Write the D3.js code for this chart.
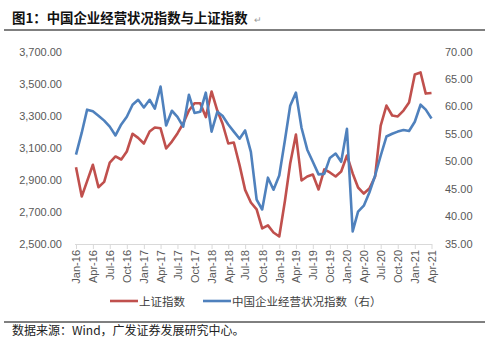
<!DOCTYPE html>
<html>
<head>
<meta charset="utf-8">
<script src="https://cdn.jsdelivr.net/npm/d3@7"></script>
<style>
  body { margin: 0; background: #fff; }
  svg { display: block; }
</style>
</head>
<body>
<div id="chart"></div>
<script>
// monthly, Jan-16 .. Apr-21
var startMonth = new Date(2016, 0, 1);

// 上证指数 (left axis)
var sseValues = [
  2977, 2794, 2890, 2992, 2852, 2885, 3005, 3044, 3025, 3075,
  3186, 3160, 3125, 3200, 3225, 3220, 3094, 3137, 3188, 3250,
  3331, 3377, 3377, 3290, 3450, 3331, 3250, 3125, 3131, 2990,
  2835, 2756, 2713, 2594, 2613, 2569, 2544, 2769, 3000, 3181,
  2894, 2919, 2931, 2838, 2963, 2944, 2919, 2950, 3050, 2938,
  2850, 2812, 2844, 2919, 3237, 3362, 3300, 3294, 3331, 3381,
  3556, 3569, 3437, 3441
];

// 中国企业经营状况指数 (right axis)
var bizValues = [
  51.2, 55.2, 59.4, 59.1, 58.3, 57.4, 56.3, 54.7, 56.7, 58.1,
  60.3, 61.2, 59.8, 61.2, 59.6, 63.6, 56.5, 59.2, 58.1, 56.3,
  62.1, 58.8, 59.0, 62.5, 55.4, 59.0, 58.3, 56.7, 55.4, 54.1,
  55.6, 51.7, 43.0, 41.2, 47.0, 44.8, 47.4, 53.9, 60.1, 62.5,
  56.1, 52.1, 49.9, 47.6, 47.7, 50.6, 51.4, 49.9, 55.9, 37.2,
  40.8, 41.9, 44.3, 47.4, 51.0, 54.5, 55.0, 55.4, 55.7, 55.5,
  57.2, 60.3, 59.4, 57.8
];

var leftTicks = [2500, 2700, 2900, 3100, 3300, 3500, 3700];
var rightTicks = [35, 40, 45, 50, 55, 60, 65, 70];
var seriesNames = ["上证指数", "中国企业经营状况指数（右）"];
var seriesColors = ["#C0504D", "#4F81BD"];

var titleText = "图1：中国企业经营状况指数与上证指数";
var sourceText = "数据来源：Wind，广发证券发展研究中心。";

var width = 485, height = 342;
var font = "'Liberation Sans', Arial, sans-serif";
var cjk = "'Noto Sans CJK SC', sans-serif";

var svg = d3.select("#chart").append("svg")
    .attr("width", width).attr("height", height);

// title + rules
svg.append("text")
    .attr("x", 12).attr("y", 23)
    .attr("font-family", cjk).attr("font-weight", "bold")
    .attr("font-size", 13.4).attr("fill", "#111")
    .text(titleText);
svg.append("text")
    .attr("x", 254).attr("y", 23)
    .attr("font-family", font).attr("font-size", 9).attr("fill", "#999")
    .text("↵");
svg.append("line").attr("x1", 4).attr("x2", 485).attr("y1", 30).attr("y2", 30)
    .attr("stroke", "#000").attr("stroke-width", 1.2);
svg.append("line").attr("x1", 4).attr("x2", 485).attr("y1", 322).attr("y2", 322)
    .attr("stroke", "#000").attr("stroke-width", 1);
svg.append("text")
    .attr("x", 12).attr("y", 335)
    .attr("font-family", cjk).attr("font-size", 12).attr("fill", "#222")
    .text(sourceText);

var dates = sseValues.map(function(d, i) { return d3.timeMonth.offset(startMonth, i); });

var x = d3.scaleTime()
    .domain([dates[0], dates[dates.length - 1]])
    .range([76, 431.5]);
var yL = d3.scaleLinear().domain([2500, 3700]).range([243.5, 51.5]);
var yR = d3.scaleLinear().domain([35, 70]).range([243.5, 51.5]);

// left axis labels
svg.append("g")
    .attr("transform", "translate(62,0)")
    .call(d3.axisLeft(yL).tickValues(leftTicks).tickSize(0).tickPadding(0)
        .tickFormat(d3.format(",.2f")))
    .call(function(g) { g.select(".domain").remove(); })
    .selectAll("text")
    .attr("font-family", font).attr("font-size", 11).attr("fill", "#595959");

// right axis labels
svg.append("g")
    .attr("transform", "translate(445,0)")
    .call(d3.axisRight(yR).tickValues(rightTicks).tickSize(0).tickPadding(0)
        .tickFormat(d3.format(".2f")))
    .call(function(g) { g.select(".domain").remove(); })
    .selectAll("text")
    .attr("font-family", font).attr("font-size", 11).attr("fill", "#595959");

// x axis
var quarterTicks = dates.filter(function(d, i) { return i % 3 === 0; });
var xAxis = svg.append("g")
    .attr("transform", "translate(0,244)")
    .call(d3.axisBottom(x).tickValues(quarterTicks).tickSize(5)
        .tickFormat(d3.timeFormat("%b-%y")));
xAxis.select(".domain").attr("stroke", "#d9d9d9").attr("d", "M75,0.5H432");
xAxis.selectAll(".tick line").attr("stroke", "#d9d9d9");
xAxis.selectAll("text")
    .attr("font-family", font).attr("font-size", 11).attr("fill", "#595959")
    .attr("text-anchor", "end")
    .attr("transform", "rotate(-90)")
    .attr("x", -6).attr("y", 0).attr("dy", "0.35em");

// lines
var lineL = d3.line().x(function(d, i) { return x(dates[i]); }).y(function(d) { return yL(d); });
var lineR = d3.line().x(function(d, i) { return x(dates[i]); }).y(function(d) { return yR(d); });

svg.append("path").datum(sseValues)
    .attr("d", lineL).attr("fill", "none")
    .attr("stroke", seriesColors[0]).attr("stroke-width", 2.6)
    .attr("stroke-linejoin", "round");
svg.append("path").datum(bizValues)
    .attr("d", lineR).attr("fill", "none")
    .attr("stroke", seriesColors[1]).attr("stroke-width", 2.6)
    .attr("stroke-linejoin", "round");

// legend
var legend = [
  { name: seriesNames[0], color: seriesColors[0], x: 110 },
  { name: seriesNames[1], color: seriesColors[1], x: 203 }
];
legend.forEach(function(l) {
  svg.append("line").attr("x1", l.x).attr("x2", l.x + 28)
      .attr("y1", 301).attr("y2", 301)
      .attr("stroke", l.color).attr("stroke-width", 2.6);
  svg.append("text").attr("x", l.x + 29).attr("y", 305.5)
      .attr("font-family", cjk).attr("font-size", 11.5).attr("fill", "#404040")
      .text(l.name);
});
</script>
</body>
</html>
